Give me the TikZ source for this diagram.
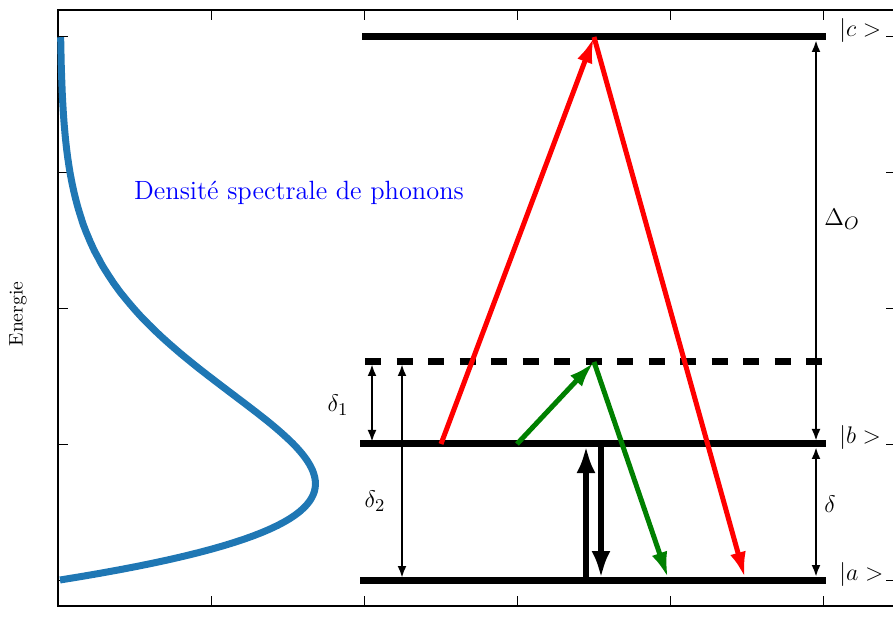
\documentclass[tikz,border=0pt]{standalone}
\usetikzlibrary{arrows.meta}
\definecolor{mplblue}{HTML}{1F77B4}
\definecolor{mplgreen}{HTML}{008000}
\begin{document}
\begin{tikzpicture}[x=0.5pt,y=-0.5pt,
  spine/.style={line width=0.7pt,black},
  tickmark/.style={line width=0.5pt,black},
  level/.style={line width=3.5pt,black},
  trans/.style={line width=2.5pt,-{Latex[length=13pt,width=8pt]}},
  bigtrans/.style={line width=2.7pt,-{Latex[length=13.5pt,width=9.5pt]}},
  gap/.style={line width=1.2pt,{Latex[length=6pt,width=4.5pt]}-{Latex[length=6pt,width=4.5pt]}},
  lab/.style={font=\fontsize{13.2}{15}\selectfont,inner sep=0pt},
]
\useasboundingbox (0,0) rectangle (893,619);
\clip (0,0) rectangle (893,619);
% axes frame
\draw[spine] (58,10) rectangle (896,606);
\foreach \yy in {37,173,309,445,580}{
  \draw[tickmark] (58,\yy) -- (68,\yy);
  \draw[tickmark] (896,\yy) -- (886,\yy);
}
\foreach \xx in {211,364,517,670,823}{
  \draw[tickmark] (\xx,606) -- (\xx,596);
  \draw[tickmark] (\xx,10) -- (\xx,20);
}
% spectral density
\draw[mplblue,line width=3.5pt,line cap=butt,line join=round]
  plot[domain=0:1,samples=160,variable=\t]
  ({60+3410*\t*exp(-4.08*\t-4.4*\t*\t)},{580-543*\t});
\node[lab,text=blue,anchor=base] (dens) at (299,200) {Densit\'e spectrale de phonons};
\node[font=\fontsize{9.8}{11}\selectfont,rotate=90,inner sep=0pt] (energ) at (18,314) {Energie};
% levels
\coordinate (cL) at (362,37);  \coordinate (cR) at (826,37);
\coordinate (vL) at (365,362); \coordinate (vR) at (822,362);
\coordinate (bL) at (360,444); \coordinate (bR) at (826,444);
\coordinate (aL) at (360,580); \coordinate (aR) at (826,580);
\draw[level] (cL) -- (cR);
\draw[level,dash pattern=on 8pt off 7.75pt] (vL) -- (vR);
\draw[level] (bL) -- (bR);
\draw[level] (aL) -- (aR);
\node[lab,anchor=base west] (labc) at (839,37) {$|c>$};
\node[lab,anchor=base west] (labb) at (839,444) {$|b>$};
\node[lab,anchor=base west] (laba) at (839,580) {$|a>$};
% transitions
\coordinate (r1s) at (441,444); \coordinate (top) at (594,37);
\coordinate (r2e) at (745,578);
\coordinate (g1s) at (517,444); \coordinate (mid) at (594,362);
\coordinate (g2e) at (668,578);
\draw[trans,red] (r1s) -- (top);
\draw[trans,red] (top) -- (r2e);
\draw[trans,mplgreen] (g1s) -- (mid);
\draw[trans,mplgreen] (mid) -- (g2e);
\coordinate (u1) at (586,578); \coordinate (u2) at (586,446);
\coordinate (d1) at (601,446); \coordinate (d2) at (601,578);
\draw[bigtrans] (u1) -- (u2);
\draw[bigtrans] (d1) -- (d2);
% gaps
\coordinate (g1a) at (372,364); \coordinate (g1b) at (372,442);
\coordinate (g2a) at (402,364); \coordinate (g2b) at (402,578);
\coordinate (gOa) at (816,40);  \coordinate (gOb) at (816,441);
\coordinate (gda) at (816,447); \coordinate (gdb) at (816,577);
\draw[gap] (g1a) -- (g1b);
\draw[gap] (g2a) -- (g2b);
\draw[gap] (gOa) -- (gOb);
\draw[gap] (gda) -- (gdb);
\node[lab] (d1lab) at (338,405) {$\delta_1$};
\node[lab] (d2lab) at (375,501) {$\delta_2$};
\node[lab] (DOlab) at (842,219) {$\Delta_O$};
\node[lab] (dlab) at (830,504) {$\delta$};
\end{tikzpicture}
\end{document}
